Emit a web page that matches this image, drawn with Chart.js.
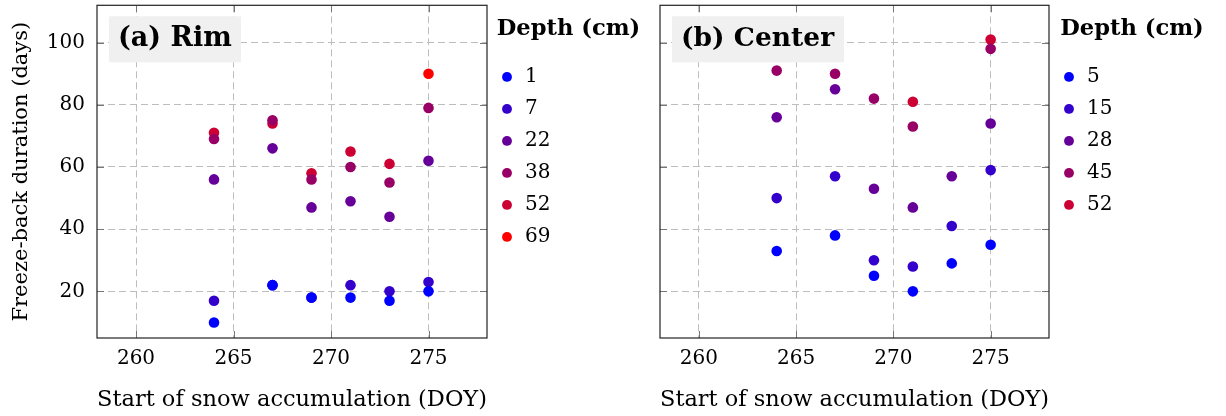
<!DOCTYPE html>
<html>
<head>
<meta charset="utf-8">
<script src="https://cdn.jsdelivr.net/npm/chart.js@4.4.0/dist/chart.umd.min.js"></script>
<style>
  body { margin: 0; background: #fff; }
  .panel { position: absolute; top: 0; }
</style>
</head>
<body>
<div class="panel" style="left:0"><canvas id="rimChart" width="650" height="416"></canvas></div>
<div class="panel" style="left:650px"><canvas id="centerChart" width="576" height="416"></canvas></div>
<script>
// start of snow accumulation (DOY) for each year
const doy = [264, 267, 269, 271, 273, 275];
const xTicks = [260, 265, 270, 275];
const yTicks = [20, 40, 60, 80, 100];

// (a) Rim - freeze-back duration (days) per depth
const rimDepths = ["1", "7", "22", "38", "52", "69"];
const rim1 = [10, 22, 18, 18, 17, 20];
const rim7 = [17, 22, 18, 22, 20, 23];
const rim22 = [56, 66, 47, 49, 44, 62];
const rim38 = [69, 75, 56, 60, 55, 79];
const rim52 = [71, 74, 58, 65, 61, null];
const rim69 = [null, null, null, null, null, 90];

// (b) Center
const centerDepths = ["5", "15", "28", "45", "52"];
const center5 = [33, 38, 25, 20, 29, 35];
const center15 = [50, 57, 30, 28, 41, 59];
const center28 = [76, 85, 53, 47, 57, 74];
const center45 = [91, 90, 82, 73, null, 98];
const center52 = [null, null, null, 81, null, 101];

const rimColors = ["#0000ff", "#3300cc", "#660099", "#990066", "#cc0033", "#ff0000"];
const centerColors = ["#0000ff", "#3300cc", "#660099", "#990066", "#cc0033"];

Chart.defaults.font.family = "'DejaVu Serif', serif";
Chart.defaults.color = "#000";

const toPoints = (values) => {
  var pts = [];
  for (let i = 0; i < doy.length; i++) {
    if (values[i] != null) pts.push({ x: doy[i], y: values[i] });
  }
  return pts;
};

const makeDatasets = (labels, series, colors) =>
  labels.map((lab, i) => ({
    label: lab,
    data: toPoints(series[i]),
    backgroundColor: colors[i],
    borderColor: colors[i],
    borderWidth: 0,
    pointRadius: 5.3,
    pointStyle: "circle",
  }));

// the legend is clipped to its own box, so make it wide enough for the title
const legendWidth = {
  id: "legendWidth",
  beforeLayout(chart, args, opts) {
    const lg = chart.legend;
    if (lg && !lg._widthPatched) {
      const fit = lg.fit;
      lg.fit = function () {
        fit.call(this);
        this.width = Math.max(this.width, opts.width);
      };
      lg._widthPatched = true;
    }
  },
};

// light grey label box in the top-left corner + frame with inward ticks
const panelDecor = {
  id: "panelDecor",
  beforeDatasetsDraw(chart, args, opts) {
    const { ctx, chartArea } = chart;
    ctx.save();
    ctx.fillStyle = "#f0f0f0";
    ctx.fillRect(chartArea.left + 12, chartArea.top + 11, opts.boxWidth, 46);
    ctx.font = "bold " + opts.fontSize + "px 'DejaVu Serif'";
    ctx.fillStyle = "#000";
    ctx.textBaseline = "middle";
    ctx.fillText(opts.text, chartArea.left + 21, chartArea.top + 34);

    // inward tick marks
    ctx.strokeStyle = "#777";
    ctx.lineWidth = 1;
    ctx.beginPath();
    chart.scales.x.ticks.forEach((t) => {
      const px = Math.round(chart.scales.x.getPixelForValue(t.value)) + 0.5;
      ctx.moveTo(px, chartArea.bottom);
      ctx.lineTo(px, chartArea.bottom - 7);
      ctx.moveTo(px, chartArea.top);
      ctx.lineTo(px, chartArea.top + 7);
    });
    chart.scales.y.ticks.forEach((t) => {
      const py = Math.round(chart.scales.y.getPixelForValue(t.value)) + 0.5;
      ctx.moveTo(chartArea.left, py);
      ctx.lineTo(chartArea.left + 7, py);
      ctx.moveTo(chartArea.right, py);
      ctx.lineTo(chartArea.right - 7, py);
    });
    ctx.stroke();
    ctx.restore();
  },
  afterDatasetsDraw(chart) {
    const { ctx, chartArea } = chart;
    ctx.save();
    ctx.strokeStyle = "#222";
    ctx.lineWidth = 1.2;
    ctx.strokeRect(chartArea.left, chartArea.top, chartArea.right - chartArea.left, chartArea.bottom - chartArea.top);
    ctx.restore();
  },
};

const buildOptions = (cfg) => ({
  responsive: false,
  animation: false,
  devicePixelRatio: 1,
  events: [],
  layout: { padding: { top: 4, right: cfg.padRight, bottom: 0, left: 0 } },
  scales: {
    x: {
      type: "linear",
      position: "bottom",
      min: 258,
      max: 278,
      afterBuildTicks: (s) => { s.ticks = xTicks.map((v) => ({ value: v })); },
      afterFit: (s) => {
        s.height = 78;
        s.paddingLeft = 0;
        s.paddingRight = 0;
      },
      grid: { color: "#bdbdbd", drawTicks: false },
      border: { display: false, dash: [7, 4] },
      ticks: { padding: 9, font: { size: 20 }, maxRotation: 0 },
      title: {
        display: true,
        text: "Start of snow accumulation (DOY)",
        font: { size: 22.8 },
        padding: { top: 0, bottom: 2 },
      },
    },
    y: {
      type: "linear",
      min: 5,
      max: 112,
      afterBuildTicks: (s) => { s.ticks = yTicks.map((v) => ({ value: v })); },
      afterFit: (s) => {
        s.width = cfg.yWidth;
        s.paddingTop = 0;
        s.paddingBottom = 0;
      },
      grid: { color: "#bdbdbd", drawTicks: false },
      border: { display: false, dash: [7, 4] },
      ticks: { display: cfg.showY, padding: 12, font: { size: 20 } },
      title: {
        display: cfg.showY,
        text: "Freeze-back duration (days)",
        font: { size: 21 },
        padding: { top: 9, bottom: 0 },
      },
    },
  },
  plugins: {
    tooltip: { enabled: false },
    panelDecor: { text: cfg.label, boxWidth: cfg.boxWidth, fontSize: cfg.labelSize },
    legendWidth: { width: cfg.legendWidth },
    legend: {
      position: "right",
      align: "start",
      title: {
        display: true,
        text: "Depth (cm)",
        position: "center",
        font: { size: 22.6, weight: "bold" },
        padding: { top: 13.5, bottom: 10.3 },
      },
      labels: {
        usePointStyle: true,
        boxWidth: 16,
        boxHeight: 7,
        padding: 12,
        font: { size: 20 },
      },
    },
  },
});

new Chart(document.getElementById("rimChart"), {
  type: "scatter",
  data: {
    datasets: makeDatasets(rimDepths, [rim1, rim7, rim22, rim38, rim52, rim69], rimColors),
  },
  options: buildOptions({
    label: "(a) Rim", boxWidth: 132, labelSize: 27, showY: true,
    yWidth: 97, legendWidth: 163, padRight: 0,
  }),
  plugins: [panelDecor, legendWidth],
});

new Chart(document.getElementById("centerChart"), {
  type: "scatter",
  data: {
    datasets: makeDatasets(centerDepths, [center5, center15, center28, center45, center52], centerColors),
  },
  options: buildOptions({
    label: "(b) Center", boxWidth: 172, labelSize: 26.5, showY: false,
    yWidth: 10, legendWidth: 166, padRight: 11,
  }),
  plugins: [panelDecor, legendWidth],
});
</script>
</body>
</html>
